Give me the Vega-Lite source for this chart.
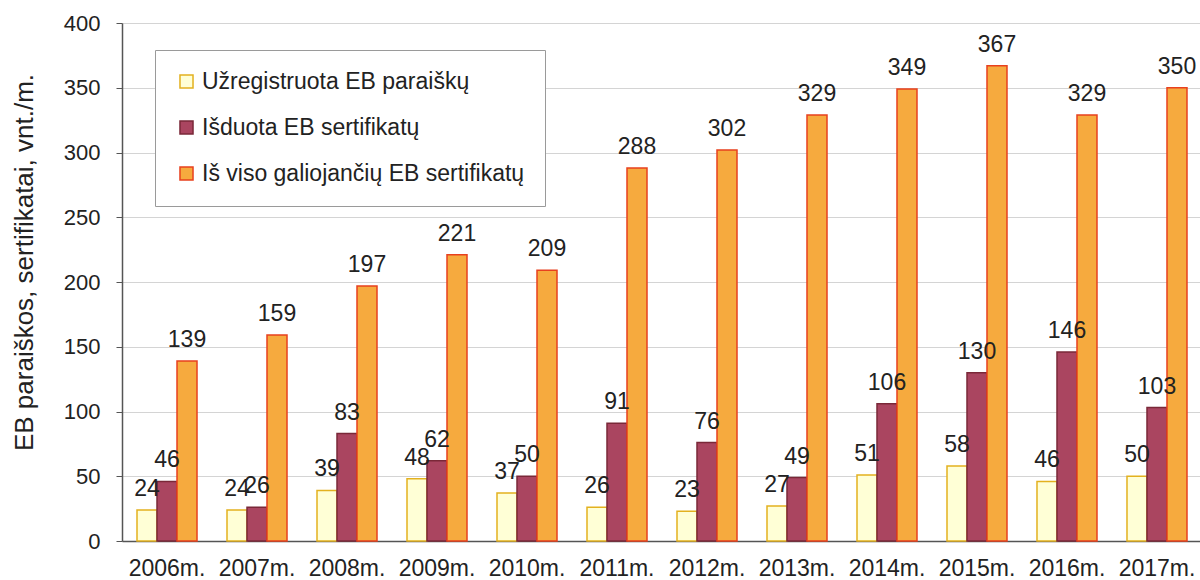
{
  "$schema": "https://vega.github.io/schema/vega-lite/v6.json",
  "autosize": {"type": "none"},
  "width": 1080,
  "height": 518,
  "padding": {"left": 122, "top": 23, "right": 0, "bottom": 39},
  "background": "white",
  "config": {
    "font": "Liberation Sans",
    "view": {"stroke": null},
    "legend": {"labelFont": "Liberation Sans"}
  },
  "data": {
    "values": [
      {"year": "2006m.", "series": "Užregistruota EB paraiškų", "value": 24},
      {"year": "2006m.", "series": "Išduota EB sertifikatų", "value": 46},
      {"year": "2006m.", "series": "Iš viso galiojančių EB sertifikatų", "value": 139},
      {"year": "2007m.", "series": "Užregistruota EB paraiškų", "value": 24},
      {"year": "2007m.", "series": "Išduota EB sertifikatų", "value": 26},
      {"year": "2007m.", "series": "Iš viso galiojančių EB sertifikatų", "value": 159},
      {"year": "2008m.", "series": "Užregistruota EB paraiškų", "value": 39},
      {"year": "2008m.", "series": "Išduota EB sertifikatų", "value": 83},
      {"year": "2008m.", "series": "Iš viso galiojančių EB sertifikatų", "value": 197},
      {"year": "2009m.", "series": "Užregistruota EB paraiškų", "value": 48},
      {"year": "2009m.", "series": "Išduota EB sertifikatų", "value": 62},
      {"year": "2009m.", "series": "Iš viso galiojančių EB sertifikatų", "value": 221},
      {"year": "2010m.", "series": "Užregistruota EB paraiškų", "value": 37},
      {"year": "2010m.", "series": "Išduota EB sertifikatų", "value": 50},
      {"year": "2010m.", "series": "Iš viso galiojančių EB sertifikatų", "value": 209},
      {"year": "2011m.", "series": "Užregistruota EB paraiškų", "value": 26},
      {"year": "2011m.", "series": "Išduota EB sertifikatų", "value": 91},
      {"year": "2011m.", "series": "Iš viso galiojančių EB sertifikatų", "value": 288},
      {"year": "2012m.", "series": "Užregistruota EB paraiškų", "value": 23},
      {"year": "2012m.", "series": "Išduota EB sertifikatų", "value": 76},
      {"year": "2012m.", "series": "Iš viso galiojančių EB sertifikatų", "value": 302},
      {"year": "2013m.", "series": "Užregistruota EB paraiškų", "value": 27},
      {"year": "2013m.", "series": "Išduota EB sertifikatų", "value": 49},
      {"year": "2013m.", "series": "Iš viso galiojančių EB sertifikatų", "value": 329},
      {"year": "2014m.", "series": "Užregistruota EB paraiškų", "value": 51},
      {"year": "2014m.", "series": "Išduota EB sertifikatų", "value": 106},
      {"year": "2014m.", "series": "Iš viso galiojančių EB sertifikatų", "value": 349},
      {"year": "2015m.", "series": "Užregistruota EB paraiškų", "value": 58},
      {"year": "2015m.", "series": "Išduota EB sertifikatų", "value": 130},
      {"year": "2015m.", "series": "Iš viso galiojančių EB sertifikatų", "value": 367},
      {"year": "2016m.", "series": "Užregistruota EB paraiškų", "value": 46},
      {"year": "2016m.", "series": "Išduota EB sertifikatų", "value": 146},
      {"year": "2016m.", "series": "Iš viso galiojančių EB sertifikatų", "value": 329},
      {"year": "2017m.", "series": "Užregistruota EB paraiškų", "value": 50},
      {"year": "2017m.", "series": "Išduota EB sertifikatų", "value": 103},
      {"year": "2017m.", "series": "Iš viso galiojančių EB sertifikatų", "value": 350}
    ]
  },
  "encoding": {
    "x": {
      "field": "year",
      "type": "nominal",
      "sort": null,
      "scale": {"paddingInner": 0.3333, "paddingOuter": 0.1667},
      "axis": {
        "title": null,
        "labelAngle": 0,
        "labelFontSize": 23,
        "labelColor": "#222222",
        "ticks": false,
        "labelPadding": 16,
        "domainColor": "#555555",
        "domainWidth": 1.5,
        "grid": false
      }
    },
    "xOffset": {
      "field": "series",
      "type": "nominal",
      "sort": ["Užregistruota EB paraiškų", "Išduota EB sertifikatų", "Iš viso galiojančių EB sertifikatų"],
      "scale": {"paddingInner": 0, "paddingOuter": 0}
    },
    "y": {
      "field": "value",
      "type": "quantitative",
      "scale": {"domain": [0, 400], "nice": false},
      "axis": {
        "values": [0, 50, 100, 150, 200, 250, 300, 350, 400],
        "title": "EB paraiškos, sertifikatai, vnt./m.",
        "titleFontSize": 26,
        "titleFontWeight": "normal",
        "titleColor": "#222222",
        "titleAngle": -90,
        "titleAlign": "center",
        "titleBaseline": "alphabetic",
        "titleX": -90,
        "titleY": 239,
        "labelFontSize": 22,
        "labelColor": "#222222",
        "labelPadding": 16,
        "tickSize": 6,
        "tickColor": "#555555",
        "domainColor": "#555555",
        "domainWidth": 1.5,
        "gridColor": "#d4d4d4",
        "gridWidth": 1
      }
    }
  },
  "layer": [
    {
      "mark": {"type": "bar", "strokeWidth": 1.5},
      "encoding": {
        "fill": {
          "field": "series",
          "type": "nominal",
          "scale": {
            "domain": ["Užregistruota EB paraiškų", "Išduota EB sertifikatų", "Iš viso galiojančių EB sertifikatų"],
            "range": ["#FFFFD6", "#AA4560", "#F6AA3E"]
          },
          "legend": {
            "orient": "none",
            "legendX": 33,
            "legendY": 27,
            "title": null,
            "symbolType": "square",
            "symbolSize": 170,
            "symbolStrokeWidth": 1.5,
            "labelFontSize": 23,
            "labelColor": "#222222",
            "labelOffset": 4,
            "labelLimit": 600,
            "rowPadding": 22,
            "padding": 20,
            "strokeColor": "#9a9a9a",
            "fillColor": "white"
          }
        },
        "stroke": {
          "field": "series",
          "type": "nominal",
          "scale": {
            "domain": ["Užregistruota EB paraiškų", "Išduota EB sertifikatų", "Iš viso galiojančių EB sertifikatų"],
            "range": ["#E3B11F", "#7A2838", "#E8401E"]
          }
        }
      }
    },
    {
      "mark": {"type": "text", "baseline": "alphabetic", "dy": -14, "fontSize": 23, "color": "#222222"},
      "encoding": {"text": {"field": "value", "type": "quantitative"}}
    }
  ]
}
